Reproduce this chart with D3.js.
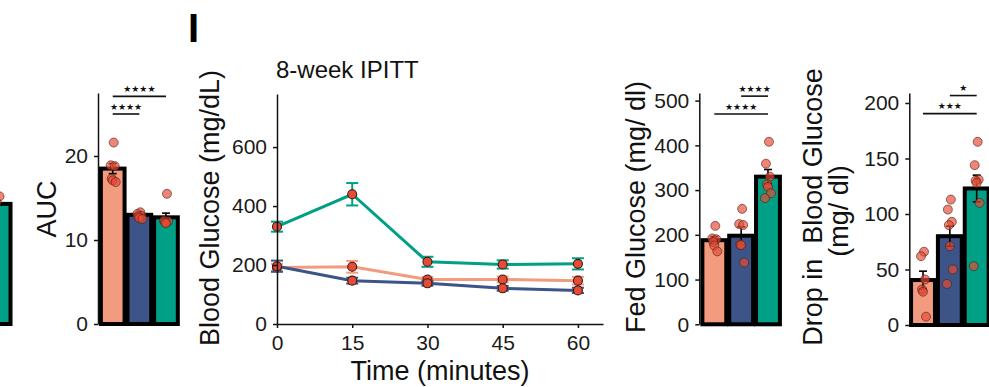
<!DOCTYPE html>
<html>
<head>
<meta charset="utf-8">
<script src="https://cdn.jsdelivr.net/npm/d3@7"></script>
<style>
  body { margin: 0; background: #fff; }
  svg { display: block; font-family: "Liberation Sans", Arial, sans-serif; }
</style>
</head>
<body>
<svg id="fig" width="989" height="387"></svg>
<script>
// -------------------------------------------------------------------------- //
//                                  DATA                                      //
// -------------------------------------------------------------------------- //

var groups = ["g1", "g2", "g3"];
var groupColors = ["#F39B7F", "#3C5488", "#00A087"];

// partial panel at the left edge (only the last bar is in view)
var prev_mean = [null, null, 14.3];
var prev_points = [[], [], [15.2, 14.5]];

// AUC
var auc_mean = [18.5, 13.0, 12.7];
var auc_sem = [0.6, 0.2, 0.5];
var auc_points = [
    [21.6, 18.9, 18.8, 17.3, 17.1, 16.9],
    [13.3, 13.1, 12.9, 12.8, 12.6, 12.5],
    [15.5, 12.3, 12.2, 12.1, 12.0]
];
var auc_ticks = [0, 10, 20];
var auc_sig = [
    { a: 0, b: 1, level: 25.0, label: "★★★★" },
    { a: 0, b: 2, level: 27.1, label: "★★★★" }
];

// 8-week IPITT
var ipitt_times = [0, 15, 30, 45, 60];
var ipitt_mean = [
    [192, 194, 151, 151, 147],
    [196, 147, 138, 121, 114],
    [330, 440, 211, 202, 204]
];
var ipitt_sem = [
    [12, 20, 8, 10, 13],
    [19, 10, 8, 8, 9],
    [17, 38, 17, 14, 19]
];
var ipitt_yticks = [0, 200, 400, 600];

// Fed glucose
var fed_mean = [188, 198, 330];
var fed_sem = [8, 20, 16];
var fed_points = [
    [220, 192, 190, 184, 176, 163],
    [258, 224, 222, 178, 177, 138],
    [408, 359, 330, 313, 307, 293, 282]
];
var fed_ticks = [0, 100, 200, 300, 400, 500];
var fed_sig = [
    { a: 0, b: 2, level: 470, label: "★★★★" },
    { a: 1, b: 2, level: 510, label: "★★★★" }
];

// Drop in blood glucose
var drop_mean = [40.5, 80, 123];
var drop_sem = [8, 9, 12];
var drop_points = [
    [66, 62, 41, 32, 30, 7.5],
    [113, 104, 93, 90, 71, 50, 37],
    [165, 144, 131, 130, 128, 110, 53]
];
var drop_ticks = [0, 50, 100, 150, 200];
var drop_sig = [
    { a: 0, b: 2, level: 190.4, label: "★★★" },
    { a: 1, b: 2, level: 206.7, label: "★" }
];

// -------------------------------------------------------------------------- //
//                                 HELPERS                                    //
// -------------------------------------------------------------------------- //

var svg = d3.select("#fig");
var jitter = [1, -2, 2, -1, 0, 3, -3];

function styleAxis (g)
{
    g.select(".domain").attr("stroke", "#111").attr("stroke-width", 1.5);
    g.selectAll(".tick line").attr("stroke", "#111").attr("stroke-width", 1.5);
    g.selectAll(".tick text")
        .attr("fill", "#1a1a1a")
        .style("font-size", "21px")
        .style("font-family", "'Liberation Sans', Arial, sans-serif");
}

// @description Bar panel with points, error bars, y axis and brackets
function barPanel (opt)
{
    var x = d3.scaleBand()
        .domain(groups)
        .range(opt.xRange)
        .paddingInner(0.11)
        .paddingOuter(0.055);

    var y = d3.scaleLinear().domain(opt.yDomain).range(opt.yRange);
    var g = svg.append("g");

    var bars = opt.means.map(function(m, i) { return { i: i, m: m }; })
        .filter(function(d) { return d.m !== null; });

    g.selectAll("rect.bar").data(bars).enter().append("rect")
        .attr("class", "bar")
        .attr("x", function(d) { return x(groups[d.i]); })
        .attr("width", x.bandwidth())
        .attr("y", function(d) { return y(d.m); })
        .attr("height", function(d) { return y(0) - y(d.m); })
        .attr("fill", function(d) { return groupColors[d.i]; })
        .attr("stroke", "#000")
        .attr("stroke-width", 4);

    if (opt.sems) {
        var eb = g.selectAll("g.err").data(bars).enter().append("g")
            .attr("stroke", "#000").attr("stroke-width", 1.6);
        eb.append("line")
            .attr("x1", function(d) { return x(groups[d.i]) + x.bandwidth()/2; })
            .attr("x2", function(d) { return x(groups[d.i]) + x.bandwidth()/2; })
            .attr("y1", function(d) { return y(d.m - opt.sems[d.i]); })
            .attr("y2", function(d) { return y(d.m + opt.sems[d.i]); });
        [-1, 1].forEach(function(s) {
            eb.append("line")
                .attr("x1", function(d) { return x(groups[d.i]) + x.bandwidth()/2 - 4; })
                .attr("x2", function(d) { return x(groups[d.i]) + x.bandwidth()/2 + 4; })
                .attr("y1", function(d) { return y(d.m + s * opt.sems[d.i]); })
                .attr("y2", function(d) { return y(d.m + s * opt.sems[d.i]); });
        });
    }

    var pts = [];
    opt.points.forEach(function(arr, i) {
        arr.forEach(function(v, k) { pts.push({ i: i, v: v, k: k }); });
    });
    g.selectAll("circle.pt").data(pts).enter().append("circle")
        .attr("class", "pt")
        .attr("cx", function(d) { return x(groups[d.i]) + x.bandwidth()/2 + jitter[d.k % jitter.length]; })
        .attr("cy", function(d) { return y(d.v); })
        .attr("r", 4.5)
        .attr("fill", "#E64B35")
        .attr("fill-opacity", 0.68)
        .attr("stroke", "#4a1e14")
        .attr("stroke-opacity", 0.6)
        .attr("stroke-width", 1);

    if (opt.axisX !== undefined) {
        var ax = g.append("g")
            .attr("transform", "translate(" + opt.axisX + ",0)")
            .call(d3.axisLeft(y).tickValues(opt.ticks).tickSize(4).tickSizeOuter(0).tickPadding(6));
        styleAxis(ax);
    }

    (opt.sig || []).forEach(function(s) {
        var xa = x(groups[s.a]) + x.bandwidth()/2;
        var xb = x(groups[s.b]) + x.bandwidth()/2;
        g.append("line")
            .attr("x1", xa).attr("x2", xb)
            .attr("y1", y(s.level)).attr("y2", y(s.level))
            .attr("stroke", "#111").attr("stroke-width", 1.6);
        g.append("text")
            .attr("x", (xa + xb)/2)
            .attr("y", y(s.level) - 7.5)
            .attr("text-anchor", "middle")
            .attr("dominant-baseline", "central")
            .attr("fill", "#111")
            .style("font-size", "9px")
            .style("font-family", "'DejaVu Sans', sans-serif")
            .text(s.label);
    });

    (opt.titles || []).forEach(function(t) {
        svg.append("text")
            .attr("transform", "translate(" + t.x + "," + t.y + ") rotate(-90)")
            .attr("text-anchor", "middle")
            .attr("fill", "#111")
            .style("font-size", "27px")
            .style("white-space", "pre")
            .text(t.text);
    });
}

// -------------------------------------------------------------------------- //
//                                 PANELS                                     //
// -------------------------------------------------------------------------- //

barPanel({
    xRange: [-68.6, 12], yDomain: [0, 27.5], yRange: [324, 93],
    means: prev_mean, points: prev_points
});

barPanel({
    xRange: [99.4, 179.3], yDomain: [0, 27.5], yRange: [324, 93],
    means: auc_mean, sems: auc_sem, points: auc_points,
    axisX: 98, ticks: auc_ticks, sig: auc_sig,
    titles: [{ x: 56, y: 209, text: "AUC" }]
});

barPanel({
    xRange: [700.9, 781.4], yDomain: [0, 517], yRange: [324.3, 93],
    means: fed_mean, sems: fed_sem, points: fed_points,
    axisX: 699.3, ticks: fed_ticks, sig: fed_sig,
    titles: [{ x: 645, y: 207, text: "Fed Glucose (mg/ dl)" }]
});

barPanel({
    xRange: [909.6, 990.1], yDomain: [0, 209], yRange: [325, 93],
    means: drop_mean, sems: drop_sem, points: drop_points,
    axisX: 909.3, ticks: drop_ticks, sig: drop_sig,
    titles: [{ x: 821.5, y: 207, text: "Drop in  Blood Glucose" },
             { x: 847.5, y: 211, text: "(mg/ dl)" }]
});

// IPITT line chart
(function () {
    var x = d3.scaleLinear().domain([0, 65]).range([277, 603]);
    var y = d3.scaleLinear().domain([0, 780]).range([324, 94]);
    var g = svg.append("g");

    var line = d3.line()
        .x(function(d) { return x(d.t); })
        .y(function(d) { return y(d.m); });

    ipitt_mean.forEach(function(series, i) {
        var data = series.map(function(m, k) {
            return { t: ipitt_times[k], m: m, e: ipitt_sem[i][k] };
        });
        var col = groupColors[i];
        var sg = g.append("g");

        sg.append("path")
            .attr("d", line(data))
            .attr("fill", "none")
            .attr("stroke", col)
            .attr("stroke-width", 3);

        var eb = sg.selectAll("g.err").data(data).enter().append("g")
            .attr("stroke", col).attr("stroke-width", 2);
        eb.append("line")
            .attr("x1", function(d) { return x(d.t); })
            .attr("x2", function(d) { return x(d.t); })
            .attr("y1", function(d) { return y(d.m - d.e); })
            .attr("y2", function(d) { return y(d.m + d.e); });
        [-1, 1].forEach(function(s) {
            eb.append("line")
                .attr("x1", function(d) { return x(d.t) - 6; })
                .attr("x2", function(d) { return x(d.t) + 6; })
                .attr("y1", function(d) { return y(d.m + s * d.e); })
                .attr("y2", function(d) { return y(d.m + s * d.e); });
        });

        sg.selectAll("circle").data(data).enter().append("circle")
            .attr("cx", function(d) { return x(d.t); })
            .attr("cy", function(d) { return y(d.m); })
            .attr("r", 4.5)
            .attr("fill", "#E64B35")
            .attr("stroke", "#3a1a12")
            .attr("stroke-width", 1.1);
    });

    var ay = g.append("g")
        .attr("transform", "translate(" + x(0) + ",0)")
        .call(d3.axisLeft(y).tickValues(ipitt_yticks).tickSize(4).tickSizeOuter(0).tickPadding(6));
    styleAxis(ay);

    var axb = g.append("g")
        .attr("transform", "translate(0," + y(0) + ")")
        .call(d3.axisBottom(x).tickValues(ipitt_times).tickSize(4).tickSizeOuter(0).tickPadding(7));
    styleAxis(axb);

    svg.append("text")
        .attr("x", 276).attr("y", 78)
        .attr("fill", "#111")
        .style("font-size", "24px")
        .text("8-week IPITT");

    svg.append("text")
        .attr("transform", "translate(219,208) rotate(-90)")
        .attr("text-anchor", "middle")
        .attr("fill", "#111")
        .style("font-size", "27px")
        .text("Blood Glucose (mg/dL)");

    svg.append("text")
        .attr("x", 440).attr("y", 380)
        .attr("text-anchor", "middle")
        .attr("fill", "#111")
        .style("font-size", "27px")
        .text("Time (minutes)");
})();

// panel letter
svg.append("text")
    .attr("x", 188).attr("y", 42)
    .attr("fill", "#000")
    .style("font-size", "40px")
    .style("font-weight", "bold")
    .text("I");
</script>
</body>
</html>
